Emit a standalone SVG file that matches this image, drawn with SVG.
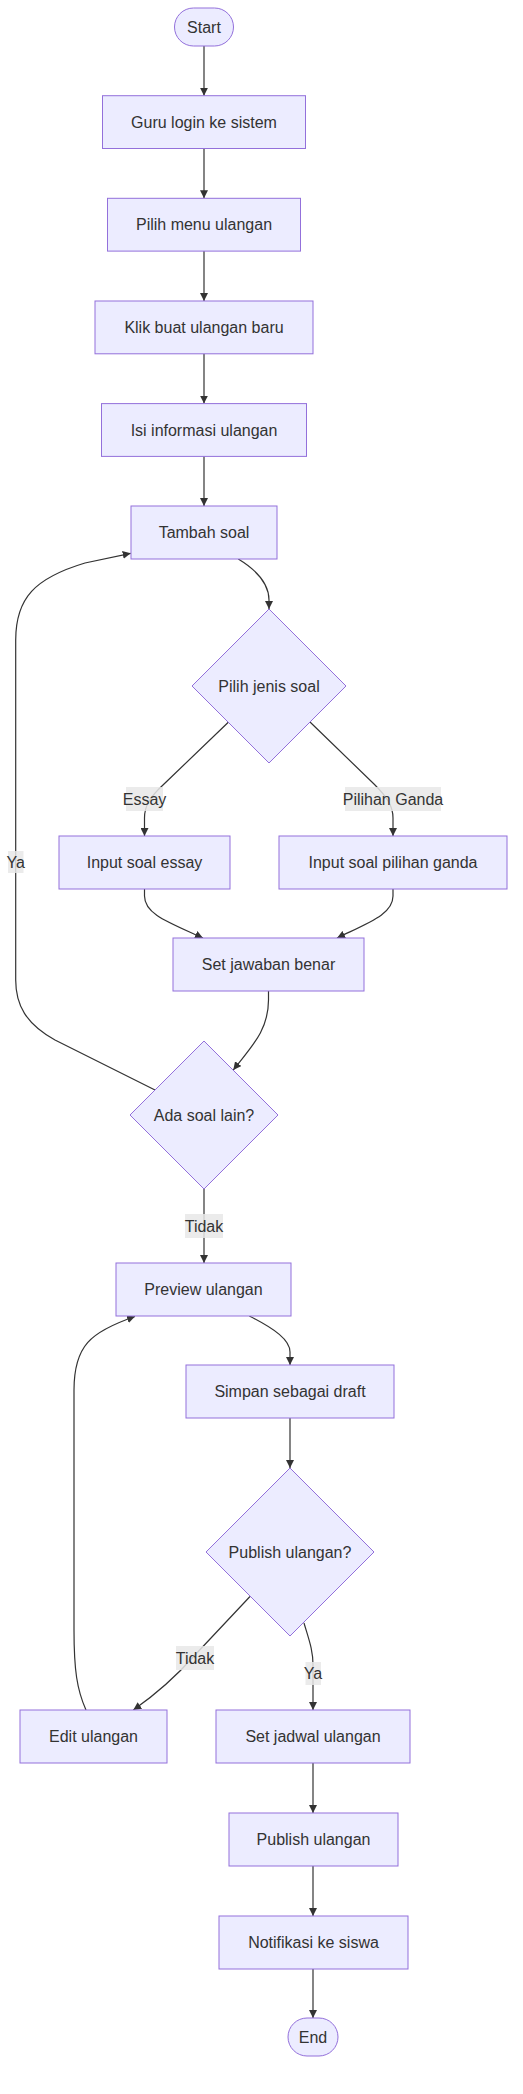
<svg xmlns="http://www.w3.org/2000/svg" width="523" height="2094" viewBox="0 0 523 2094">
<style>
.node rect,.node polygon{fill:#ECECFF;stroke:#9370DB;stroke-width:1}
.node text,.lbl text{font-family:"Liberation Sans",Arial,sans-serif;font-size:16px;fill:#333;text-anchor:middle;dominant-baseline:central}
.edge{fill:none;stroke:#333;stroke-width:1.2}
.lbl rect{fill:#e8e8e8;opacity:0.85}
</style>
<defs>
<marker id="arr" viewBox="0 0 10 10" refX="10" refY="5" markerWidth="8" markerHeight="8" markerUnits="userSpaceOnUse" orient="auto">
<path d="M0,0 L10,5 L0,10 z" fill="#333"/>
</marker>
</defs>
<rect width="523" height="2094" fill="#fff"/>
<g id="connectors">
<path class="edge" marker-end="url(#arr)" d="M204,46 L204,95.7"/>
<path class="edge" marker-end="url(#arr)" d="M204,148.5 L204,198.3"/>
<path class="edge" marker-end="url(#arr)" d="M204,251 L204,301"/>
<path class="edge" marker-end="url(#arr)" d="M204,353.6 L204,403.6"/>
<path class="edge" marker-end="url(#arr)" d="M204,456.3 L204,506"/>
<path class="edge" marker-end="url(#arr)" d="M238.3,559 C258,571 269,584 269,600 L269,609"/>
<path class="edge" marker-end="url(#arr)" d="M228.3,722.3 L163,785 C150,797 144.5,806 144.5,818 L144.5,836"/>
<path class="edge" marker-end="url(#arr)" d="M310,722 L374,784 C387,797 393,806 393,818 L393,836"/>
<path class="edge" marker-end="url(#arr)" d="M144.5,889 L144.5,896 C144.5,914 168,922 203,938"/>
<path class="edge" marker-end="url(#arr)" d="M393,889 L393,896 C393,914 370,922 337,938"/>
<path class="edge" marker-end="url(#arr)" d="M268.5,991 L268.5,1000 C268.5,1030 252,1046 233.3,1070"/>
<path class="edge" marker-end="url(#arr)" d="M155,1090 L55,1040 C26,1024 15.7,1005 15.7,980 L15.7,640 C15.7,598 35,578 85,563 L130.7,553.3"/>
<path class="edge" marker-end="url(#arr)" d="M204,1189 L204,1263"/>
<path class="edge" marker-end="url(#arr)" d="M249.3,1316 C275,1329 290,1340 290,1352 L290,1365"/>
<path class="edge" marker-end="url(#arr)" d="M290,1418 L290,1468"/>
<path class="edge" marker-end="url(#arr)" d="M250,1596.5 L195,1655 C180,1672 162,1690 133.3,1710"/>
<path class="edge" marker-end="url(#arr)" d="M304,1623 C309,1640 313,1650 313,1665 L313,1710"/>
<path class="edge" marker-end="url(#arr)" d="M86,1710 C77,1690 74,1670 74,1630 L74,1390 C74,1346 90,1332 135,1316.5"/>
<path class="edge" marker-end="url(#arr)" d="M313,1763 L313,1813"/>
<path class="edge" marker-end="url(#arr)" d="M313,1866 L313,1916"/>
<path class="edge" marker-end="url(#arr)" d="M313,1969 L313,2018"/>
</g>
<g id="edge-labels">
<g class="lbl"><rect x="126" y="787" width="37" height="24"/><text x="144.5" y="799">Essay</text></g>
<g class="lbl"><rect x="345" y="787" width="96" height="24"/><text x="393" y="799">Pilihan Ganda</text></g>
<g class="lbl"><rect x="8" y="851" width="15.5" height="22"/><text x="15.7" y="862">Ya</text></g>
<g class="lbl"><rect x="185" y="1214" width="38" height="24"/><text x="204" y="1226">Tidak</text></g>
<g class="lbl"><rect x="176" y="1646" width="38" height="24"/><text x="195" y="1658">Tidak</text></g>
<g class="lbl"><rect x="305.5" y="1662" width="15.5" height="23"/><text x="313" y="1673">Ya</text></g>
</g>
<g id="start" class="node"><rect x="174.5" y="8" width="59" height="38" rx="19" ry="19"/><text x="204" y="27">Start</text></g>
<g id="guru-login" class="node"><rect x="102.5" y="95.7" width="203" height="52.8"/><text x="204" y="122">Guru login ke sistem</text></g>
<g id="pilih-menu" class="node"><rect x="107.5" y="198.3" width="193" height="52.8"/><text x="204" y="224.7">Pilih menu ulangan</text></g>
<g id="klik-buat" class="node"><rect x="95" y="301" width="218" height="52.8"/><text x="204" y="327.4">Klik buat ulangan baru</text></g>
<g id="isi-informasi" class="node"><rect x="101.5" y="403.6" width="205" height="52.8"/><text x="204" y="430">Isi informasi ulangan</text></g>
<g id="tambah-soal" class="node"><rect x="131" y="506" width="146" height="53"/><text x="204" y="532.5">Tambah soal</text></g>
<g id="pilih-jenis" class="node"><polygon points="269,609 346,686 269,763 192,686"/><text x="269" y="686">Pilih jenis soal</text></g>
<g id="input-essay" class="node"><rect x="59" y="836" width="171" height="53"/><text x="144.5" y="862.5">Input soal essay</text></g>
<g id="input-pg" class="node"><rect x="279" y="836" width="228" height="53"/><text x="393" y="862.5">Input soal pilihan ganda</text></g>
<g id="set-jawaban" class="node"><rect x="173" y="938" width="191" height="53"/><text x="268.5" y="964.5">Set jawaban benar</text></g>
<g id="ada-soal" class="node"><polygon points="204,1041 278,1115 204,1189 130,1115"/><text x="204" y="1115">Ada soal lain?</text></g>
<g id="preview" class="node"><rect x="116" y="1263" width="175" height="53"/><text x="203.5" y="1289.5">Preview ulangan</text></g>
<g id="simpan" class="node"><rect x="186" y="1365" width="208" height="53"/><text x="290" y="1391.5">Simpan sebagai draft</text></g>
<g id="publish-q" class="node"><polygon points="290,1468 374,1552 290,1636 206,1552"/><text x="290" y="1552">Publish ulangan?</text></g>
<g id="edit" class="node"><rect x="20" y="1710" width="147" height="53"/><text x="93.5" y="1736.5">Edit ulangan</text></g>
<g id="set-jadwal" class="node"><rect x="216" y="1710" width="194" height="53"/><text x="313" y="1736.5">Set jadwal ulangan</text></g>
<g id="publish" class="node"><rect x="229" y="1813" width="169" height="53"/><text x="313.5" y="1839.5">Publish ulangan</text></g>
<g id="notifikasi" class="node"><rect x="219" y="1916" width="189" height="53"/><text x="313.5" y="1942.5">Notifikasi ke siswa</text></g>
<g id="end" class="node"><rect x="288" y="2018" width="50" height="38" rx="19" ry="19"/><text x="313" y="2037">End</text></g>
</svg>
